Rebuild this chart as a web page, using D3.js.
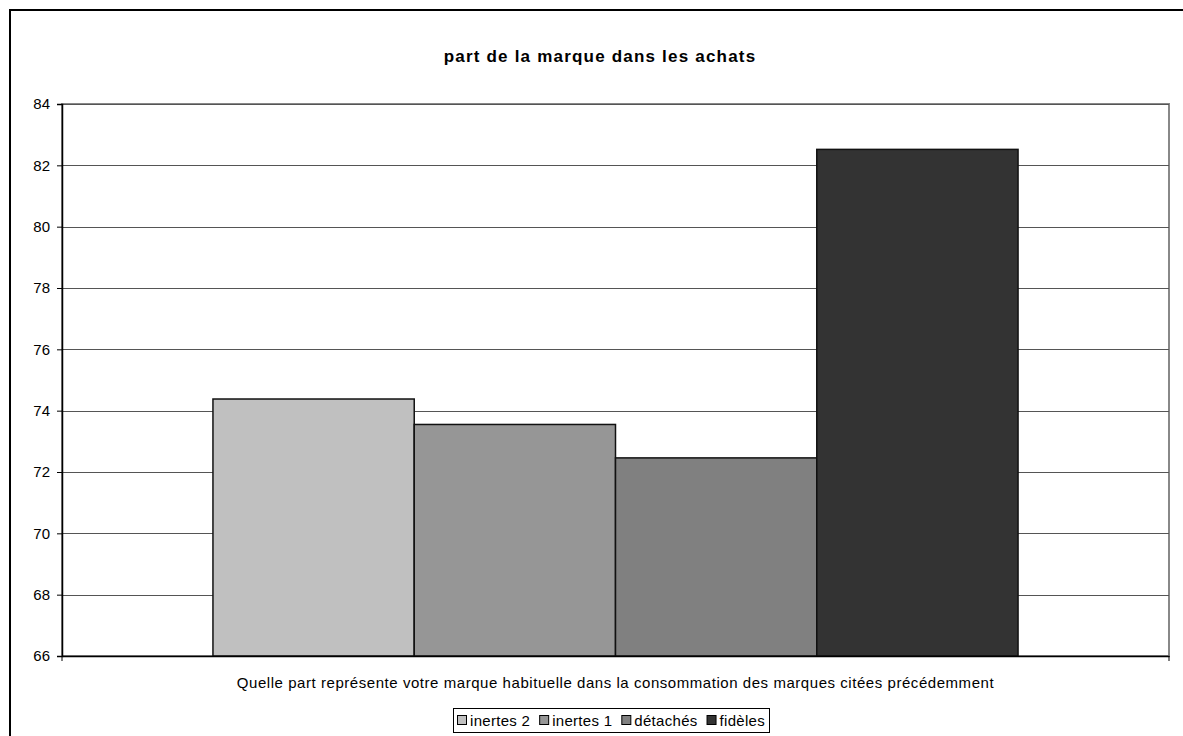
<!DOCTYPE html>
<html>
<head>
<meta charset="utf-8">
<script src="https://cdn.jsdelivr.net/npm/d3@7"></script>
<style>
  body { margin: 0; background: #fff; }
  svg { display: block; font-family: "Liberation Sans", Arial, sans-serif; }
</style>
</head>
<body>
<div id="chart"></div>
<script>
// Data
const SERIES = ['inertes 2', 'inertes 1', 'détachés', 'fidèles'];
const VALUES = [74.38, 73.55, 72.46, 82.52];
const COLORS = ['#c0c0c0', '#969696', '#808080', '#333333'];
const CATEGORY = 'Quelle part représente votre marque habituelle dans la consommation des marques citées précédemment';
const TITLE = 'part de la marque dans les achats';
const Y_TICKS = [66, 68, 70, 72, 74, 76, 78, 80, 82, 84];

const width = 1183, height = 736;
const plot = { left: 62, right: 1169, top: 104, bottom: 656 };
const FONT = '"Liberation Sans", Arial, sans-serif';

const svg = d3.select('#chart').append('svg')
  .attr('width', width)
  .attr('height', height);

// outer chart frame (left and top visible, right/bottom off-canvas)
svg.append('rect')
  .attr('x', 10).attr('y', 10)
  .attr('width', width).attr('height', height)
  .attr('fill', '#fff')
  .attr('stroke', '#000')
  .attr('stroke-width', 2);

svg.append('text')
  .attr('x', 600).attr('y', 62)
  .attr('text-anchor', 'middle')
  .attr('font-size', 17)
  .attr('font-weight', 'bold')
  .attr('letter-spacing', 1.2)
  .text(TITLE);

const y = d3.scaleLinear().domain([66, 84]).range([plot.bottom, plot.top]);

// one category, series side by side, gap width 150%
const cat = d3.scaleBand().domain([CATEGORY]).range([plot.left, plot.right])
  .paddingInner(0).paddingOuter(0);
const groupW = cat.bandwidth() * 4 / 5.5;
const inner = d3.scaleBand().domain(SERIES)
  .range([cat(CATEGORY) + (cat.bandwidth() - groupW) / 2, cat(CATEGORY) + (cat.bandwidth() + groupW) / 2]);

// plot area border (gray)
svg.append('rect')
  .attr('x', plot.left).attr('y', plot.top)
  .attr('width', plot.right - plot.left).attr('height', plot.bottom - plot.top)
  .attr('fill', 'none')
  .attr('stroke', '#888')
  .attr('stroke-width', 2);

// gridlines
svg.append('g')
  .selectAll('line')
  .data(Y_TICKS.slice(1))
  .join('line')
  .attr('x1', plot.left).attr('x2', plot.right)
  .attr('y1', d => Math.round(y(d)) + 0.5).attr('y2', d => Math.round(y(d)) + 0.5)
  .attr('stroke', '#555')
  .attr('stroke-width', 1);

// bars
svg.append('g')
  .selectAll('rect')
  .data(VALUES)
  .join('rect')
  .attr('x', (d, i) => inner(SERIES[i]))
  .attr('y', d => y(d))
  .attr('width', inner.bandwidth())
  .attr('height', d => y(66) - y(d))
  .attr('fill', (d, i) => COLORS[i])
  .attr('stroke', '#111')
  .attr('stroke-width', 1.5);

// y axis
const yAxis = svg.append('g')
  .attr('transform', `translate(${plot.left},0)`)
  .call(d3.axisLeft(y).tickValues(Y_TICKS).tickSize(5).tickPadding(7).tickFormat(d3.format('d')));
yAxis.select('.domain').attr('stroke', '#000').attr('stroke-width', 1.5);
yAxis.selectAll('.tick line').attr('stroke', '#000');
yAxis.selectAll('text').attr('font-size', 15).attr('fill', '#000')
  .attr('font-family', FONT);

// x axis
const xAxis = svg.append('g')
  .attr('transform', `translate(0,${plot.bottom})`)
  .call(d3.axisBottom(cat).tickSize(0).tickPadding(21));
xAxis.select('.domain').attr('stroke', '#000').attr('stroke-width', 1.5);
xAxis.selectAll('text').attr('font-size', 15).attr('fill', '#000')
  .attr('letter-spacing', 0.55)
  .attr('font-family', FONT);
// boundary ticks at category edges
xAxis.selectAll('.edge')
  .data([plot.left, plot.right])
  .join('line')
  .attr('x1', d => d).attr('x2', d => d)
  .attr('y1', 0).attr('y2', 5)
  .attr('stroke', '#000');

// legend: items laid out from their measured text widths, spread across the box
const legendBox = { x: 453, y: 708, w: 316, h: 24 };
const legend = svg.append('g').attr('transform', `translate(${legendBox.x},${legendBox.y})`);
legend.append('rect')
  .attr('x', 0.5).attr('y', 0.5)
  .attr('width', legendBox.w).attr('height', legendBox.h)
  .attr('fill', '#fff')
  .attr('stroke', '#000')
  .attr('stroke-width', 1);
const items = legend.selectAll('g.item')
  .data(SERIES)
  .join('g')
  .attr('class', 'item');
items.append('rect')
  .attr('x', 0.5).attr('y', 7.5)
  .attr('width', 9).attr('height', 9)
  .attr('fill', (d, i) => COLORS[i])
  .attr('stroke', '#000');
items.append('text')
  .attr('x', 13).attr('y', 18)
  .attr('font-size', 15)
  .attr('letter-spacing', 0.3)
  .text(d => d);
const itemW = [];
items.each(function () { itemW.push(13 + this.querySelector('text').getComputedTextLength()); });
const margin = 4;
const gap = (legendBox.w - 2 * margin - d3.sum(itemW)) / (SERIES.length - 1);
let cursor = margin;
items.attr('transform', (d, i) => {
  const t = `translate(${cursor},0)`;
  cursor += itemW[i] + gap;
  return t;
});
</script>
</body>
</html>
